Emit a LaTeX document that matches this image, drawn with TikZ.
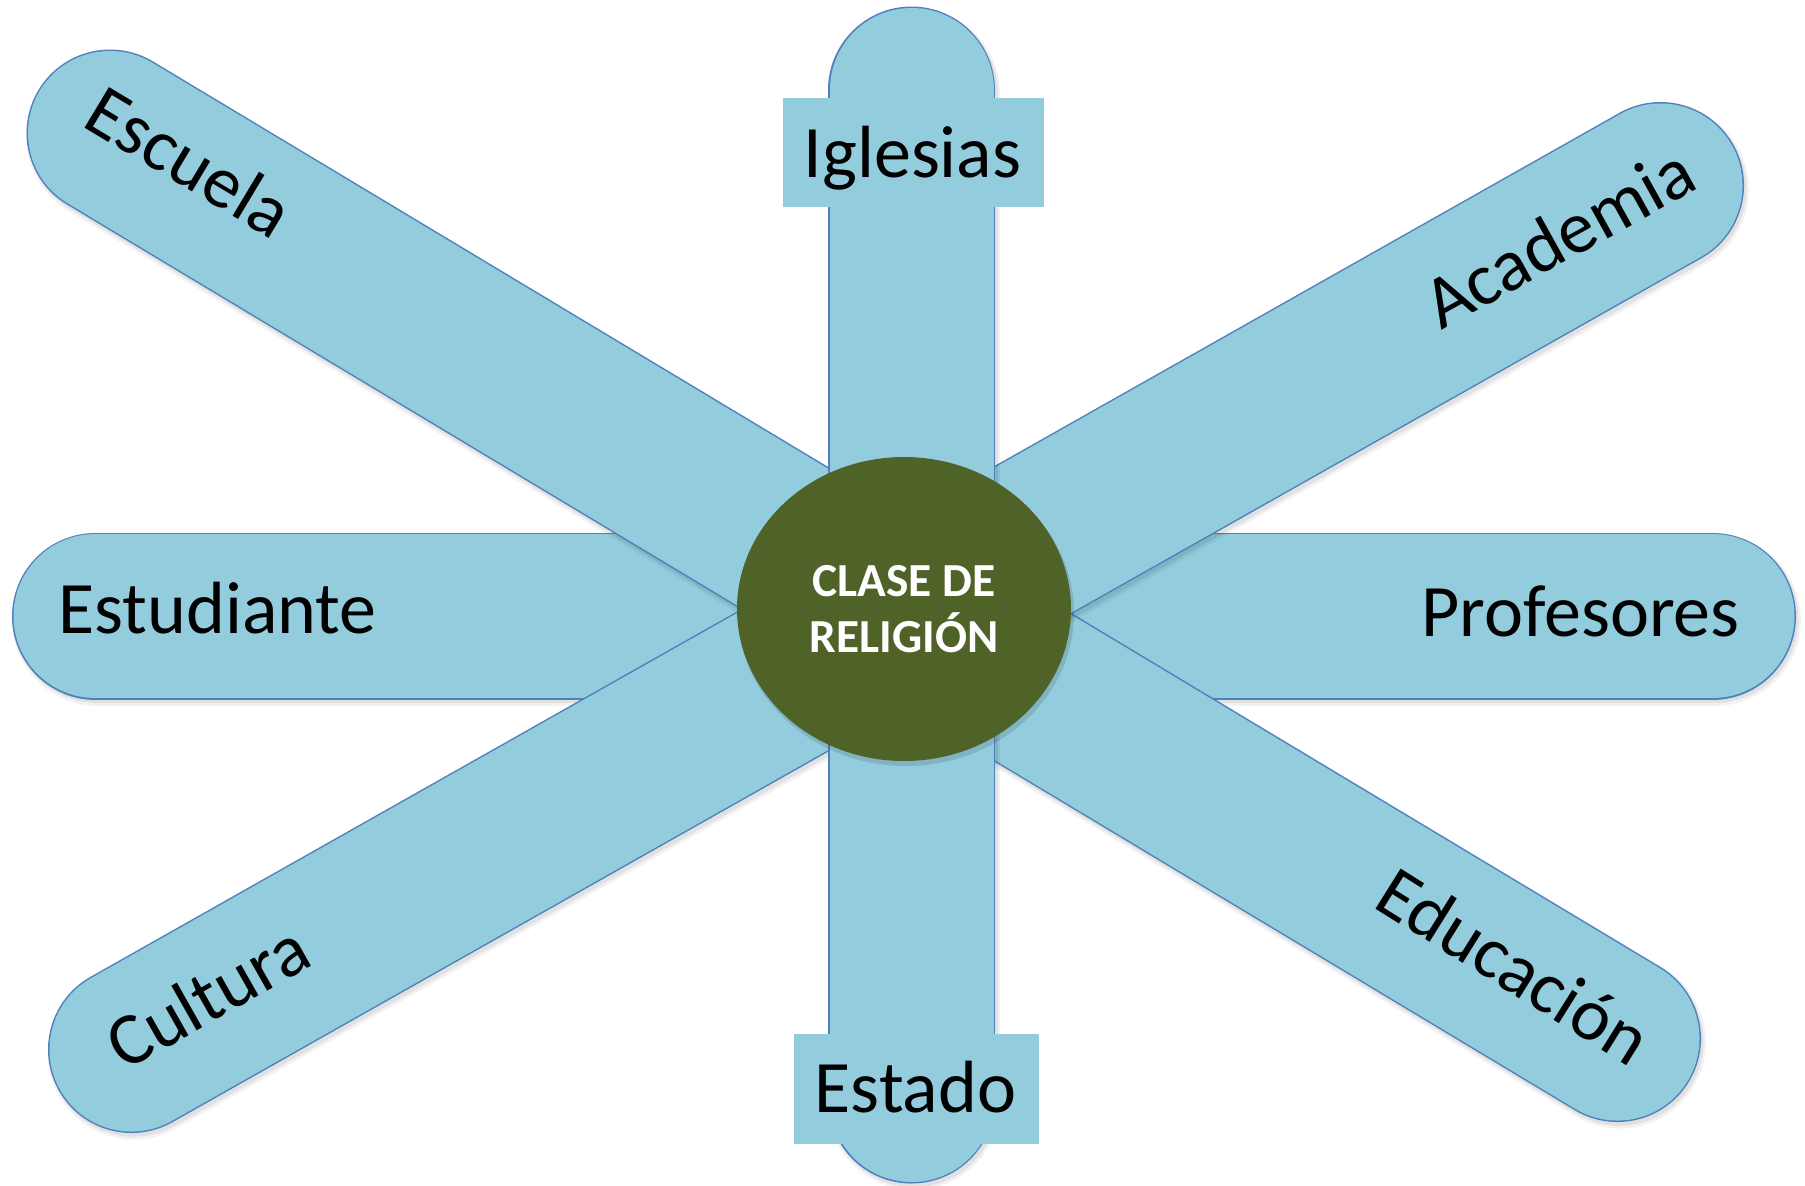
\documentclass[tikz,border=0pt]{standalone}
\usepackage{fontspec}
\setmainfont{Carlito}
\usetikzlibrary{shapes.geometric}
\definecolor{barfill}{HTML}{93CDDD}
\definecolor{barline}{HTML}{4F81BD}
\definecolor{hubfill}{HTML}{4F6228}
\begin{document}
\begin{tikzpicture}[x=0.5pt,y=-0.5pt,
  shadowA/.style={line width=86pt, line cap=round, draw=black, opacity=0.05, transform canvas={shift={(1.2pt,-2pt)}}},
  shadowB/.style={line width=84pt, line cap=round, draw=black, opacity=0.07, transform canvas={shift={(1pt,-1.6pt)}}},
  barborder/.style={line width=83.5pt, line cap=round, draw=barline},
  barbody/.style={line width=82pt, line cap=round, draw=barfill},
  lbl/.style={font=\fontsize{37}{44}\selectfont, inner sep=0pt, text=black},
  tagbox/.style={fill=barfill, inner sep=0pt}]
\useasboundingbox (0,0) rectangle (1805,1185);
% bar end points (centres of the round caps)
\coordinate (hL) at (95.5,616);   \coordinate (hR) at (1712.5,616);
\coordinate (vT) at (911.5,90);   \coordinate (vB) at (911.5,1100);
\coordinate (dAa) at (110,133);   \coordinate (dAb) at (1617.5,1038.5);
\coordinate (dBa) at (131.5,1049.5); \coordinate (dBb) at (1660.5,185.5);
% horizontal bar
\draw[shadowA] (hL) -- (hR); \draw[shadowB] (hL) -- (hR);
\draw[barborder] (hL) -- (hR); \draw[barbody] (hL) -- (hR);
% diagonal Escuela - Educacion
\draw[shadowA] (dAa) -- (dAb); \draw[shadowB] (dAa) -- (dAb);
\draw[barborder] (dAa) -- (dAb); \draw[barbody] (dAa) -- (dAb);
% diagonal Cultura - Academia
\draw[shadowA] (dBa) -- (dBb); \draw[shadowB] (dBa) -- (dBb);
\draw[barborder] (dBa) -- (dBb); \draw[barbody] (dBa) -- (dBb);
% vertical bar
\draw[shadowA] (vT) -- (vB); \draw[shadowB] (vT) -- (vB);
\draw[barborder] (vT) -- (vB); \draw[barbody] (vT) -- (vB);
% hub
\fill[black, opacity=0.12] (906,613) ellipse [x radius=168, y radius=153];
\node[ellipse, fill=hubfill, minimum width=167pt, minimum height=152pt, inner sep=0pt,
      text=white, align=center, font=\fontsize{23.7}{28}\selectfont\bfseries]
      (hub) at (904,609) {CLASE DE\\RELIGIÓN};
% label boxes on the vertical bar
\node[tagbox, minimum width=130.5pt, minimum height=54.5pt] (boxI) at (913.5,152.5) {};
\node[tagbox, minimum width=122.5pt, minimum height=55pt] (boxE) at (916.5,1089) {};
% labels
\node[lbl, anchor=base] (tIglesias) at (912.5,177) {Iglesias};
\node[lbl, anchor=base] (tEstado) at (915.5,1112) {Estado};
\node[lbl, anchor=base west] (tEstudiante) at (58,633) {Estudiante};
\node[lbl, anchor=base east] (tProfesores) at (1740,636) {Profesores};
\node[lbl, anchor=base, rotate=-31] (tEscuela) at (177,183) {Escuela};
\node[lbl, anchor=base, rotate=29] (tAcademia) at (1571,259) {Academia};
\node[lbl, anchor=base, rotate=29.5] (tCultura) at (220,1018) {Cultura};
\node[lbl, anchor=base, rotate=-32] (tEducacion) at (1501,987) {Educación};
\end{tikzpicture}
\end{document}
